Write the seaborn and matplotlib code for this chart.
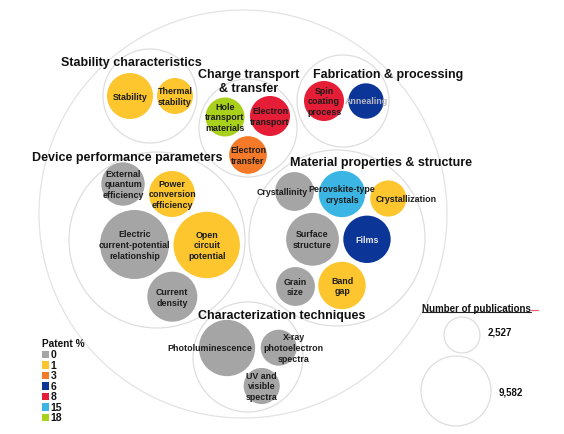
import seaborn as sns
import matplotlib.pyplot as plt
import numpy as np
import pandas as pd
from matplotlib.patches import Circle

# Topics found in the literature, grouped by theme
topics = ["Stability", "Thermal\nstability",
          "Hole\ntransport\nmaterials", "Electron\ntransport", "Electron\ntransfer",
          "Spin\ncoating\nprocess", "Annealing",
          "External\nquantum\nefficiency", "Power\nconversion\nefficiency",
          "Electric\ncurrent-potential\nrelationship", "Open\ncircuit\npotential",
          "Current\ndensity",
          "Crystallinity", "Perovskite-type\ncrystals", "Crystallization",
          "Surface\nstructure", "Films", "Grain\nsize", "Band\ngap",
          "Photoluminescence", "X-ray\nphotoelectron\nspectra", "UV and\nvisible\nspectra"]
groups = ["stab"] * 2 + ["charge"] * 3 + ["fab"] * 2 + ["device"] * 5 + ["mat"] * 7 + ["char"] * 3
publications = [4140, 2530, 2970, 3130, 2770, 3130, 2450, 3680, 4140, 9310, 8620, 4890,
                2950, 4200, 2550, 5450, 4390, 2950, 4400, 6200, 2530, 2550]
patent_pct = [1, 1, 18, 8, 3, 8, 6, 0, 1, 0, 1, 0, 0, 15, 1, 0, 6, 0, 1, 0, 0, 0]

group_titles = {"stab": "Stability characteristics",
                "charge": "Charge transport\n& transfer",
                "fab": "Fabrication & processing",
                "device": "Device performance parameters",
                "mat": "Material properties & structure",
                "char": "Characterization techniques"}

size_legend = [2527, 9582]
patent_levels = [0, 1, 3, 6, 8, 15, 18]
patent_colors = ["#a5a5a5", "#fdc62e", "#f47a2a", "#0b3697", "#e51d36", "#3bb6e4", "#a9d01b"]

# layout of the packed bubbles (centres in pixel space, y down)
bubble_xy = [(130, 97), (175, 97), (225, 118), (270, 117), (248, 156), (324, 102), (366, 102),
             (123, 185), (172, 195), (134.5, 245.5), (206.7, 246), (172.3, 297.7),
             (294.5, 192.5), (342, 195), (388.3, 199.5), (312.5, 240.3), (367, 240.3),
             (295.5, 287.5), (342, 286.5), (227, 349), (278.7, 348.7), (261.7, 387)]
label_dx = {"Crystallinity": -12, "Crystallization": 18, "Photoluminescence": -17,
            "X-ray\nphotoelectron\nspectra": 15}
group_circle = {"stab": (150, 97, 47), "charge": (248, 129, 49), "fab": (343, 102, 46),
                "device": (157, 241, 88), "mat": (337, 239, 88), "char": (248, 358, 55)}
title_xy = {"stab": (131, 63), "charge": (249, 82), "fab": (388, 75), "device": (127, 158),
            "mat": (381, 163), "char": (282, 316)}
outer = (243, 215, 204)

K = 35 / np.sqrt(9582)  # radius per sqrt(publication)

df = pd.DataFrame({"topic": topics, "group": groups, "pubs": publications, "patent": patent_pct})
df["x"] = [p[0] for p in bubble_xy]
df["y"] = [p[1] for p in bubble_xy]
df["r"] = K * np.sqrt(df["pubs"])
cmap = dict(zip(patent_levels, patent_colors))

sns.set_theme(style="white")
plt.rcParams["font.family"] = ["Liberation Sans", "DejaVu Sans"]

fig = plt.figure(figsize=(5.64, 4.35), dpi=100)
ax = fig.add_axes([0, 0, 1, 1])
ax.set_xlim(0, 564)
ax.set_ylim(435, 0)
ax.set_aspect("equal")
ax.axis("off")

ax.add_patch(Circle(outer[:2], outer[2], fill=False, ec="#e3e3e3", lw=0.9))
for g, (cx, cy, cr) in group_circle.items():
    ax.add_patch(Circle((cx, cy), cr, fill=False, ec="#dedede", lw=0.9))
    tx, ty = title_xy[g]
    ax.text(tx, ty, group_titles[g], ha="center", va="center", fontsize=9,
            fontweight="bold", color="#111111", linespacing=1.2)

for _, row in df.iterrows():
    ax.add_patch(Circle((row.x, row.y), row.r, color=cmap[row.patent], lw=0))
    tc = "#1c1c1c"
    if row.topic == "Films":
        tc = "#e8e8f0"
    elif row.topic == "Annealing":
        tc = "#b8b8c0"
    ax.text(row.x + label_dx.get(row.topic, 0), row.y, row.topic, ha="center", va="center",
            fontsize=6.4, fontweight="bold", color=tc, linespacing=1.25)

# size legend
t = ax.text(422, 309, "Number of publications", ha="left", va="center", fontsize=7,
            fontweight="bold", color="#111111")
fig.canvas.draw()
bb = t.get_window_extent().transformed(ax.transData.inverted())
ax.plot([bb.x0, bb.x1], [313, 313], color="#222222", lw=0.8)
ax.plot([bb.x1, bb.x1 + 7], [311, 311], color="#f06070", lw=0.9)
for n, (cx, cy) in zip(size_legend, [(462, 336), (456, 392)]):
    r = K * np.sqrt(n)
    ax.add_patch(Circle((cx, cy), r, fill=False, ec="#dddddd", lw=0.9))
    ax.text(cx + r + 8, cy - 3 if n < 5000 else cy + 1, f"{n:,}", ha="left", va="center",
            fontsize=7, fontweight="bold", color="#111111")

# patent legend
ax.text(42, 344, "Patent %", ha="left", va="center", fontsize=7.3, fontweight="bold",
        color="#111111")
leg = pd.DataFrame({"level": patent_levels})
leg["y"] = 355.5 + 10.5 * np.arange(len(patent_levels))
leg["x"] = 45.5
sns.scatterplot(data=leg, x="x", y="y", hue="level", palette=cmap, marker="s", s=26,
                linewidth=0, legend=False, ax=ax)
for lv, yy in zip(leg["level"], leg["y"]):
    ax.text(50.5, yy, str(lv), ha="left", va="center", fontsize=7.5, fontweight="bold",
            color="#111111")
ax.set_xlim(0, 564)
ax.set_ylim(435, 0)

fig.savefig("out.png", dpi=100)
